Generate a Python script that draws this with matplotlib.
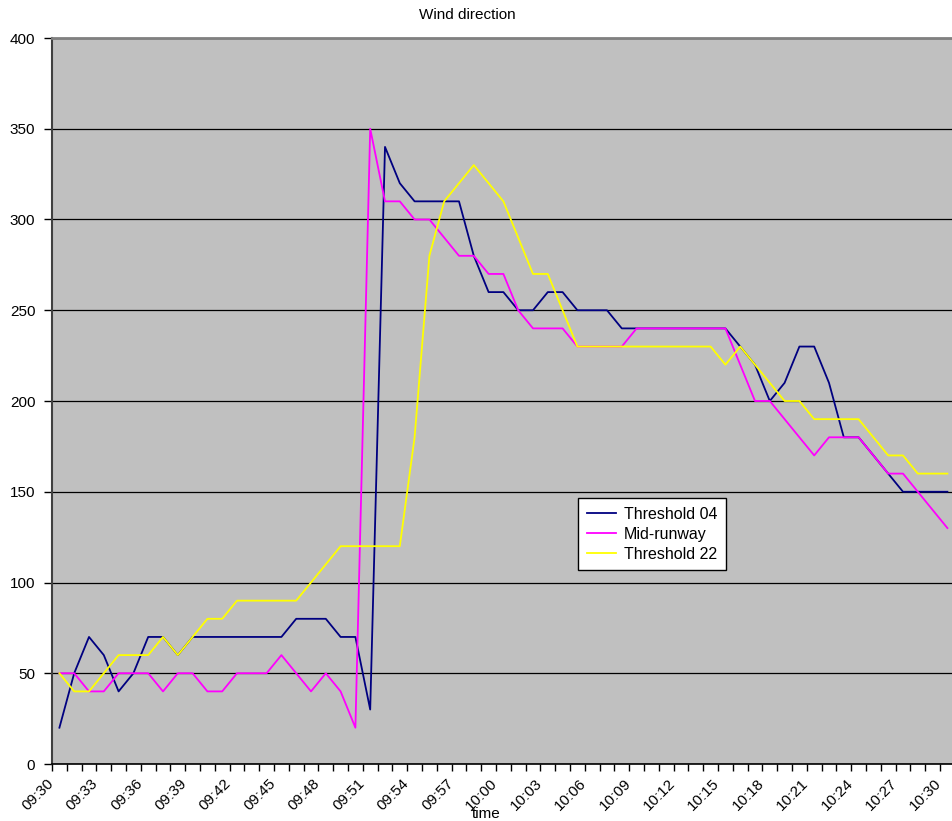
import numpy as np
import matplotlib.pyplot as plt
from matplotlib.transforms import ScaledTranslation

plt.rcParams['font.family'] = ['Liberation Sans', 'DejaVu Sans']

# one reading per minute, 09:30 .. 10:30
times = ["%02d:%02d" % (9 + (30 + m) // 60, (30 + m) % 60) for m in range(61)]

threshold_04 = [20, 50, 70, 60, 40, 50, 70, 70, 60, 70,
                70, 70, 70, 70, 70, 70, 80, 80, 80, 70,
                70, 30, 340, 320, 310, 310, 310, 310, 280, 260,
                260, 250, 250, 260, 260, 250, 250, 250, 240, 240,
                240, 240, 240, 240, 240, 240, 230, 220, 200, 210,
                230, 230, 210, 180, 180, 170, 160, 150, 150, 150,
                150]
mid_runway = [50, 50, 40, 40, 50, 50, 50, 40, 50, 50,
              40, 40, 50, 50, 50, 60, 50, 40, 50, 40,
              20, 350, 310, 310, 300, 300, 290, 280, 280, 270,
              270, 250, 240, 240, 240, 230, 230, 230, 230, 240,
              240, 240, 240, 240, 240, 240, 220, 200, 200, 190,
              180, 170, 180, 180, 180, 170, 160, 160, 150, 140,
              130]
threshold_22 = [50, 40, 40, 50, 60, 60, 60, 70, 60, 70,
                80, 80, 90, 90, 90, 90, 90, 100, 110, 120,
                120, 120, 120, 120, 180, 280, 310, 320, 330, 320,
                310, 290, 270, 270, 250, 230, 230, 230, 230, 230,
                230, 230, 230, 230, 230, 220, 230, 220, 210, 200,
                200, 190, 190, 190, 190, 180, 170, 170, 160, 160,
                160]

series = [("Threshold 04", threshold_04, "#000080"),
          ("Mid-runway", mid_runway, "#FF00FF"),
          ("Threshold 22", threshold_22, "#FFFF00")]

fig = plt.figure(figsize=(9.53, 8.21), dpi=100)
ax = fig.add_axes([52 / 953, 1 - 764 / 821, 902.8 / 953, 726 / 821])
ax.set_facecolor("#C0C0C0")

x = np.arange(len(times))
for name, vals, col in series:
    ax.plot(x, vals, color=col, lw=1.3, label=name, zorder=3)

ax.set_xlim(-0.5, len(times) - 0.5)
ax.set_ylim(0, 400)
ax.set_yticks(np.arange(0, 401, 50))
ax.yaxis.grid(True, color="black", lw=0.9)
ax.set_axisbelow(True)

# labels every third minute, tick marks between categories
ax.set_xticks(x[::3])
ax.set_xticklabels(times[::3], rotation=45, ha="right", va="top",
                   rotation_mode="anchor", fontsize=11)
ax.set_xticks(np.arange(-0.5, len(times), 1), minor=True)
ax.tick_params(axis="x", which="major", length=0, pad=9)
ax.tick_params(axis="x", which="minor", length=5, width=1, direction="out")
ax.tick_params(axis="y", length=6, width=1, pad=6, labelsize=11)
shift = ScaledTranslation(-13 / 100, 0, fig.dpi_scale_trans)
for lab in ax.get_xticklabels():
    lab.set_transform(lab.get_transform() + shift)

ax.spines["right"].set_visible(False)
ax.spines["top"].set_color("#808080")
ax.spines["top"].set_linewidth(2)
ax.spines["left"].set_color("#404040")
ax.spines["left"].set_linewidth(1.5)
ax.spines["bottom"].set_color("black")
ax.spines["bottom"].set_linewidth(1.2)

leg = ax.legend(loc="upper left", bbox_to_anchor=(0.583, 0.366),
                borderaxespad=0, fancybox=False, framealpha=1,
                edgecolor="black", fontsize=11.5, handlelength=1.8,
                handletextpad=0.5, borderpad=0.55, labelspacing=0.3)
leg.get_frame().set_linewidth(1)

fig.text(467 / 953, 1 - 15 / 821, "Wind direction", ha="center",
         va="center", fontsize=11)
fig.text(486 / 953, 1 - 814 / 821, "time", ha="center", va="center",
         fontsize=11)

fig.savefig("out.png", dpi=100)
